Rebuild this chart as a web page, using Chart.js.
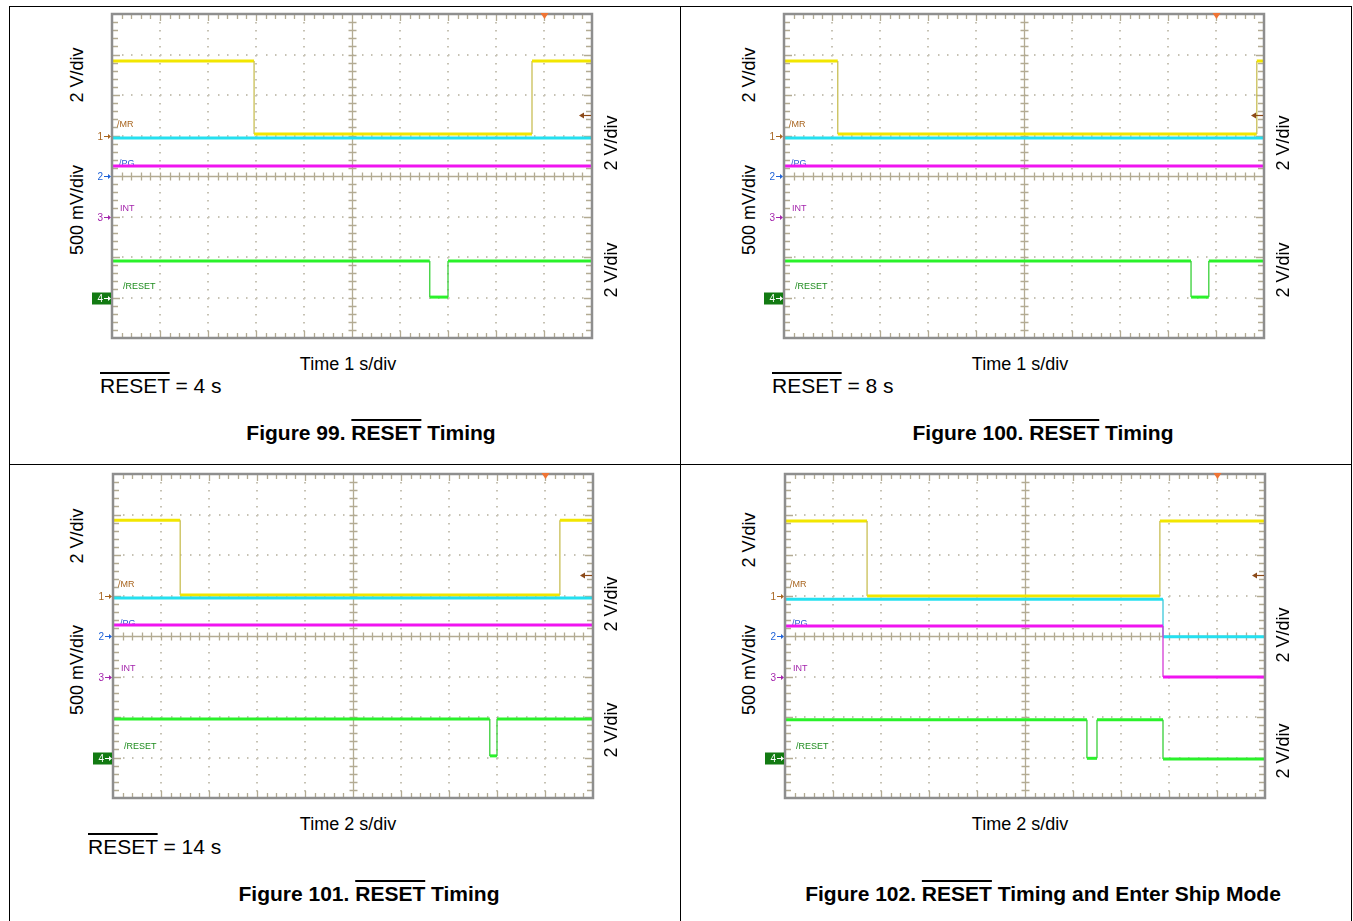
<!DOCTYPE html>
<html>
<head>
<meta charset="utf-8">
<title>RESET Timing</title>
<script src="https://cdn.jsdelivr.net/npm/chart.js@4.4.1/dist/chart.umd.min.js"></script>
<style>
  body { margin: 0; background: #fff; font-family: "Liberation Sans", Arial, sans-serif; }
  #page { position: relative; width: 1353px; height: 921px; overflow: hidden; background: #fff; }
  .rule { position: absolute; background: #000; }
  canvas.scope { position: absolute; }
  .txt { position: absolute; white-space: nowrap; color: #000; }
  .axis { font-size: 18px; line-height: 18px; }
  .val { font-size: 21px; line-height: 21px; }
  .cap { font-size: 21px; line-height: 21px; font-weight: bold; transform: translateX(-50%); }
  .mid { transform: translateX(-50%); }
  .ov { text-decoration: overline; }
  .rot { position: absolute; width: 0; height: 0; }
  .rot span { position: absolute; left: 0; top: 0; font-size: 18px; line-height: 18px; white-space: nowrap;
              transform: translate(-50%, -50%) rotate(-90deg); }
</style>
</head>
<body>
<div id="page">
  <div class="rule" style="left:9px; top:6px; width:1342px; height:1px"></div>
  <div class="rule" style="left:9px; top:464px; width:1342px; height:1px"></div>
  <div class="rule" style="left:9px; top:6px; width:1px; height:915px"></div>
  <div class="rule" style="left:680px; top:6px; width:1px; height:915px"></div>
  <div class="rule" style="left:1351px; top:6px; width:1px; height:915px"></div>

  <canvas class="scope" id="fig99" width="516" height="338" style="left:88px; top:6px"></canvas>
  <canvas class="scope" id="fig100" width="516" height="338" style="left:760px; top:6px"></canvas>
  <canvas class="scope" id="fig101" width="516" height="338" style="left:89px; top:466px"></canvas>
  <canvas class="scope" id="fig102" width="516" height="338" style="left:761px; top:466px"></canvas>

  <!-- figure 99 -->
  <div class="rot" style="left:77px; top:75px"><span>2 V/div</span></div>
  <div class="rot" style="left:77px; top:210px"><span>500 mV/div</span></div>
  <div class="rot" style="left:611px; top:143px"><span>2 V/div</span></div>
  <div class="rot" style="left:611px; top:270px"><span>2 V/div</span></div>
  <div class="txt axis mid" style="left:348px; top:355px">Time 1 s/div</div>
  <div class="txt val" style="left:100px; top:375px"><span class="ov">RESET</span> = 4 s</div>
  <div class="txt cap" style="left:371px; top:422px">Figure 99. <span class="ov">RESET</span> Timing</div>

  <!-- figure 100 -->
  <div class="rot" style="left:749px; top:75px"><span>2 V/div</span></div>
  <div class="rot" style="left:749px; top:210px"><span>500 mV/div</span></div>
  <div class="rot" style="left:1283px; top:143px"><span>2 V/div</span></div>
  <div class="rot" style="left:1283px; top:270px"><span>2 V/div</span></div>
  <div class="txt axis mid" style="left:1020px; top:355px">Time 1 s/div</div>
  <div class="txt val" style="left:772px; top:375px"><span class="ov">RESET</span> = 8 s</div>
  <div class="txt cap" style="left:1043px; top:422px">Figure 100. <span class="ov">RESET</span> Timing</div>

  <!-- figure 101 -->
  <div class="rot" style="left:77px; top:536px"><span>2 V/div</span></div>
  <div class="rot" style="left:77px; top:670px"><span>500 mV/div</span></div>
  <div class="rot" style="left:611px; top:604px"><span>2 V/div</span></div>
  <div class="rot" style="left:611px; top:730px"><span>2 V/div</span></div>
  <div class="txt axis mid" style="left:348px; top:815px">Time 2 s/div</div>
  <div class="txt val" style="left:88px; top:836px"><span class="ov">RESET</span> = 14 s</div>
  <div class="txt cap" style="left:369px; top:883px">Figure 101. <span class="ov">RESET</span> Timing</div>

  <!-- figure 102 -->
  <div class="rot" style="left:749px; top:540px"><span>2 V/div</span></div>
  <div class="rot" style="left:749px; top:670px"><span>500 mV/div</span></div>
  <div class="rot" style="left:1283px; top:635px"><span>2 V/div</span></div>
  <div class="rot" style="left:1283px; top:751px"><span>2 V/div</span></div>
  <div class="txt axis mid" style="left:1020px; top:815px">Time 2 s/div</div>
  <div class="txt cap" style="left:1043px; top:883px">Figure 102. <span class="ov">RESET</span> Timing and Enter Ship Mode</div>
</div>

<script>
// Trace breakpoints: [time in divisions (0..10), level in divisions (-4..4)]

// Figure 99 - RESET = 4 s
const fig99MR = [[0, 2.84], [2.96, 2.84], [2.96, 1.04], [8.75, 1.04], [8.75, 2.84], [10, 2.84]];
const fig99PG = [[0, 0.94], [10, 0.94]];
const fig99INT = [[0, 0.25], [10, 0.25]];
const fig99RESET = [[0, -2.1], [6.62, -2.1], [6.62, -2.99], [7.0, -2.99], [7.0, -2.1], [10, -2.1]];

// Figure 100 - RESET = 8 s
const fig100MR = [[0, 2.84], [1.12, 2.84], [1.12, 1.04], [9.85, 1.04], [9.85, 2.84], [10, 2.84]];
const fig100PG = [[0, 0.94], [10, 0.94]];
const fig100INT = [[0, 0.25], [10, 0.25]];
const fig100RESET = [[0, -2.1], [8.48, -2.1], [8.48, -2.99], [8.85, -2.99], [8.85, -2.1], [10, -2.1]];

// Figure 101 - RESET = 14 s
const fig101MR = [[0, 2.86], [1.4, 2.86], [1.4, 1.01], [9.31, 1.01], [9.31, 2.86], [10, 2.86]];
const fig101PG = [[0, 0.94], [10, 0.94]];
const fig101INT = [[0, 0.27], [10, 0.27]];
const fig101RESET = [[0, -2.05], [7.85, -2.05], [7.85, -2.96], [8.0, -2.96], [8.0, -2.05], [10, -2.05]];

// Figure 102 - RESET then ship mode
const fig102MR = [[0, 2.84], [1.71, 2.84], [1.71, 0.99], [7.81, 0.99], [7.81, 2.84], [10, 2.84]];
const fig102PG = [[0, 0.91], [7.875, 0.91], [7.875, -0.02], [10, -0.02]];
const fig102INT = [[0, 0.25], [7.875, 0.25], [7.875, -1.01], [10, -1.01]];
const fig102RESET = [[0, -2.07], [6.29, -2.07], [6.29, -3.02], [6.5, -3.02], [6.5, -2.07],
                     [7.875, -2.07], [7.875, -3.04], [10, -3.04]];

const traceColors = { MR: '#f2e600', PG: '#24e0f0', INT: '#f014f0', RESET: '#2af22a' };
const edgeColors = { MR: '#c9bf55', PG: '#3cc8da', INT: '#d43cd4', RESET: '#38d038' };

// scope screen furniture: graticule, channel markers, trigger marks
const scopeScreen = {
    id: 'scope',
    beforeDatasetsDraw(chart) {
        const { ctx, chartArea: a, scales: { x, y } } = chart;
        ctx.save();

        // dotted major divisions
        ctx.fillStyle = '#c6c2b4';
        for (let i = 1; i < 10; i++) {
            if (i === 5) continue;
            const px = Math.round(x.getPixelForValue(i));
            for (let k = 1; k < 40; k++) {
                const py = Math.round(y.getPixelForValue(-4 + k * 0.2));
                ctx.fillRect(px - 1, py, 2, 1.5);
            }
        }
        for (let j = -3; j <= 3; j++) {
            if (j === 0) continue;
            const py = Math.round(y.getPixelForValue(j));
            for (let k = 1; k < 50; k++) {
                const px = Math.round(x.getPixelForValue(k * 0.2));
                ctx.fillRect(px, py - 1, 1.5, 2);
            }
        }

        // centre crosshair with minor ticks
        const cx = Math.round(x.getPixelForValue(5)) + 0.5;
        const cy = Math.round(y.getPixelForValue(0)) + 0.5;
        ctx.strokeStyle = '#b3ab93';
        ctx.lineWidth = 1.3;
        ctx.beginPath();
        ctx.moveTo(cx, a.top); ctx.lineTo(cx, a.bottom);
        ctx.moveTo(a.left, cy); ctx.lineTo(a.right, cy);
        for (let k = 1; k < 50; k++) {
            const px = Math.round(x.getPixelForValue(k * 0.2)) + 0.5;
            ctx.moveTo(px, cy - 4); ctx.lineTo(px, cy + 4);
            ctx.moveTo(px, a.top); ctx.lineTo(px, a.top + (k % 5 ? 5 : 7));
            ctx.moveTo(px, a.bottom); ctx.lineTo(px, a.bottom - (k % 5 ? 5 : 7));
        }
        for (let k = 1; k < 40; k++) {
            const py = Math.round(y.getPixelForValue(-4 + k * 0.2)) + 0.5;
            ctx.moveTo(cx - 4, py); ctx.lineTo(cx + 4, py);
            ctx.moveTo(a.left, py); ctx.lineTo(a.left + (k % 5 ? 6 : 8), py);
            ctx.moveTo(a.right, py); ctx.lineTo(a.right - (k % 5 ? 6 : 8), py);
        }
        ctx.stroke();

        // trace names
        ctx.font = '9px "Liberation Sans", Arial, sans-serif';
        ctx.textAlign = 'left';
        ctx.textBaseline = 'middle';
        ctx.fillStyle = '#a8641e';
        ctx.fillText('/MR', a.left + 5, y.getPixelForValue(1.28));
        ctx.fillStyle = '#2c5ed2';
        ctx.fillText('/PG', a.left + 7, y.getPixelForValue(0.32));
        ctx.fillStyle = '#a424ac';
        ctx.fillText('INT', a.left + 8, y.getPixelForValue(-0.81));
        ctx.fillStyle = '#1e8c1e';
        ctx.fillText('/RESET', a.left + 11, y.getPixelForValue(-2.72));
        ctx.restore();
    },
    afterDatasetsDraw(chart) {
        const { ctx, chartArea: a, scales: { x, y } } = chart;
        ctx.save();

        // screen border
        ctx.strokeStyle = '#8e8e8e';
        ctx.lineWidth = 2.5;
        ctx.strokeRect(a.left, a.top, a.right - a.left, a.bottom - a.top);

        // channel ground markers
        const marker = (level, label, color, boxed) => {
            const py = Math.round(y.getPixelForValue(level)) + 0.5;
            if (boxed) {
                ctx.fillStyle = color;
                ctx.fillRect(a.left - 20, py - 6, 19, 12);
                color = '#ffffff';
            }
            ctx.fillStyle = color;
            ctx.strokeStyle = color;
            ctx.lineWidth = 1;
            ctx.font = '10px "Liberation Sans", Arial, sans-serif';
            ctx.textAlign = 'right';
            ctx.textBaseline = 'middle';
            ctx.fillText(label, a.left - 9, py + 0.5);
            ctx.beginPath();
            ctx.moveTo(a.left - 8, py); ctx.lineTo(a.left - 3, py);
            ctx.stroke();
            ctx.beginPath();
            ctx.moveTo(a.left - 1, py); ctx.lineTo(a.left - 4, py - 2.5); ctx.lineTo(a.left - 4, py + 2.5);
            ctx.closePath();
            ctx.fill();
        };
        marker(1, '1', '#a8641e', false);
        marker(0, '2', '#1e62d8', false);
        marker(-1, '3', '#a424ac', false);
        marker(-3, '4', '#127a12', true);

        // trigger level arrow on the right
        const ty = Math.round(y.getPixelForValue(1.5)) + 0.5;
        ctx.strokeStyle = '#8c4a18';
        ctx.fillStyle = '#8c4a18';
        ctx.lineWidth = 1.2;
        ctx.beginPath();
        ctx.moveTo(a.right - 9, ty); ctx.lineTo(a.right - 1, ty);
        ctx.stroke();
        ctx.beginPath();
        ctx.moveTo(a.right - 13, ty); ctx.lineTo(a.right - 8, ty - 3); ctx.lineTo(a.right - 8, ty + 3);
        ctx.closePath();
        ctx.fill();

        // trigger position on top
        const tx = Math.round(x.getPixelForValue(9)) + 0.5;
        ctx.fillStyle = '#f07434';
        ctx.beginPath();
        ctx.moveTo(tx - 4, a.top - 1); ctx.lineTo(tx + 4, a.top - 1); ctx.lineTo(tx, a.top + 5);
        ctx.closePath();
        ctx.fill();
        ctx.restore();
    }
};

function buildScope(canvasId, traces) {
    const isEdge = c => c.p0.parsed.x === c.p1.parsed.x;
    const datasets = ['RESET', 'INT', 'PG', 'MR'].map(name => ({
        label: name,
        data: traces[name].map(p => ({ x: p[0], y: p[1] })),
        borderColor: traceColors[name],
        borderWidth: 3,
        pointRadius: 0,
        tension: 0,
        fill: false,
        segment: {
            borderWidth: c => isEdge(c) ? 1.3 : 3,
            borderColor: c => isEdge(c) ? edgeColors[name] : traceColors[name]
        }
    }));

    return new Chart(document.getElementById(canvasId), {
        type: 'line',
        data: { datasets },
        options: {
            responsive: false,
            animation: false,
            events: [],
            layout: { padding: { left: 24, right: 12, top: 8, bottom: 6 } },
            plugins: { legend: { display: false }, tooltip: { enabled: false } },
            scales: {
                x: { type: 'linear', min: 0, max: 10, display: false },
                y: { type: 'linear', min: -4, max: 4, display: false }
            }
        },
        plugins: [scopeScreen]
    });
}

buildScope('fig99', { MR: fig99MR, PG: fig99PG, INT: fig99INT, RESET: fig99RESET });
buildScope('fig100', { MR: fig100MR, PG: fig100PG, INT: fig100INT, RESET: fig100RESET });
buildScope('fig101', { MR: fig101MR, PG: fig101PG, INT: fig101INT, RESET: fig101RESET });
buildScope('fig102', { MR: fig102MR, PG: fig102PG, INT: fig102INT, RESET: fig102RESET });
</script>
</body>
</html>
